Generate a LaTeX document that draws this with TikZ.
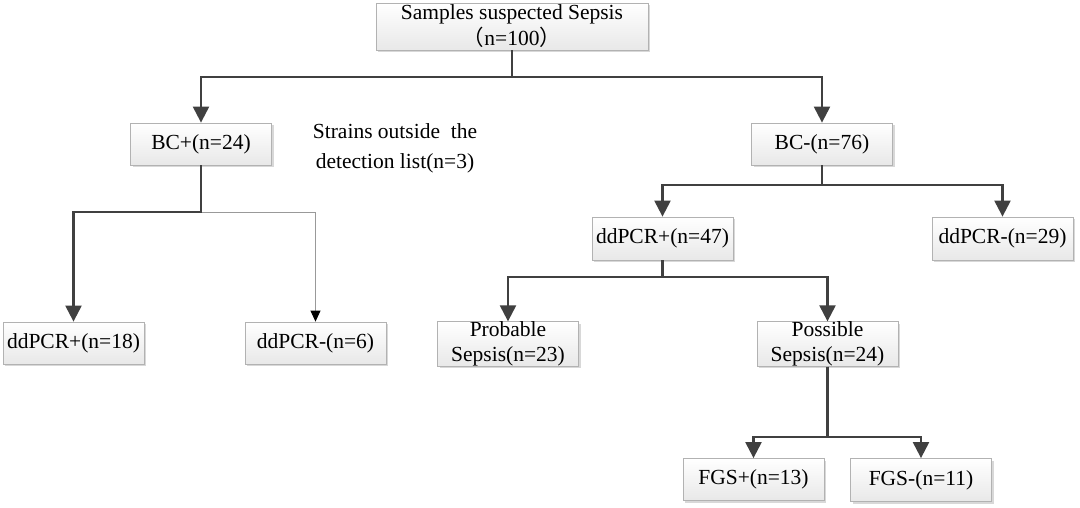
\documentclass[tikz,border=0pt]{standalone}
\usepackage{fontspec}
\setmainfont{Liberation Serif}
\newfontfamily\cjk{Noto Sans CJK SC}
\usetikzlibrary{arrows.meta,shadows}
\tikzset{
  box/.style={draw=black!30, line width=0.8pt, top color=white, bottom color=black!9,
    drop shadow={shadow xshift=2pt, shadow yshift=-2pt, fill=black!25, opacity=0.6},
    inner sep=0pt, minimum width=141pt, minimum height=42pt, align=center,
    font=\fontsize{21.5}{25}\selectfont},
  conn/.style={draw=black!75, line width=2.2pt, -{Triangle[length=16pt,width=16pt]}},
  thinconn/.style={draw=black!40, line width=0.8pt, -{Triangle[length=11pt,width=10pt,color=black]}}
}
\begin{document}
\begin{tikzpicture}[x=1pt,y=-1pt]
\useasboundingbox[fill=white] (0,0) rectangle (1080,508);
\node[box, minimum width=272pt, minimum height=47pt, font=\fontsize{21.5}{26}\selectfont] (top) at (512,26.5)
  {Samples suspected Sepsis\\{\cjk （}n=100{\cjk ）}};
\node[box] (bcp) at (201,144) {BC+(n=24)};
\node[box] (bcn) at (822,144) {BC-(n=76)};
\node[align=center, font=\fontsize{21.5}{30}\selectfont] (strains) at (395,148)
  {Strains outside\ \ the\\detection list(n=3)};
\node[box] (p18) at (73.5,343) {ddPCR+(n=18)};
\node[box] (n6) at (315.5,343) {ddPCR-(n=6)};
\node[box, minimum height=43pt] (p47) at (662.5,238.5) {ddPCR+(n=47)};
\node[box, minimum height=43pt] (n29) at (1002.5,238.5) {ddPCR-(n=29)};
\node[box] (prob) at (508,344) {Probable\\Sepsis(n=23)};
\node[box] (poss) at (827.5,344) {Possible\\Sepsis(n=24)};
\node[box] (fgsp) at (753.5,479.5) {FGS+(n=13)};
\node[box, minimum height=43pt] (fgsn) at (921,480) {FGS-(n=11)};

\coordinate (s0) at (top.south |- 0,77);
\coordinate (s1) at (bcp.south |- 0,212);
\coordinate (s2) at (bcn.south |- 0,185);
\coordinate (s3) at (p47.south |- 0,277);
\coordinate (s4) at (poss.south |- 0,437);

\draw[conn] (top.south) -- (s0) -| (bcp.north);
\draw[conn] (top.south) -- (s0) -| (bcn.north);
\draw[thinconn] (s1) -| (n6.north);
\draw[conn] (bcp.south) -- (s1) -| (p18.north);
\draw[conn] (bcn.south) -- (s2) -| (p47.north);
\draw[conn] (bcn.south) -- (s2) -| (n29.north);
\draw[conn] (p47.south) -- (s3) -| (prob.north);
\draw[conn] (p47.south) -- (s3) -| (poss.north);
\draw[conn] (poss.south) -- (s4) -| (fgsp.north);
\draw[conn] (poss.south) -- (s4) -| (fgsn.north);
\end{tikzpicture}
\end{document}
